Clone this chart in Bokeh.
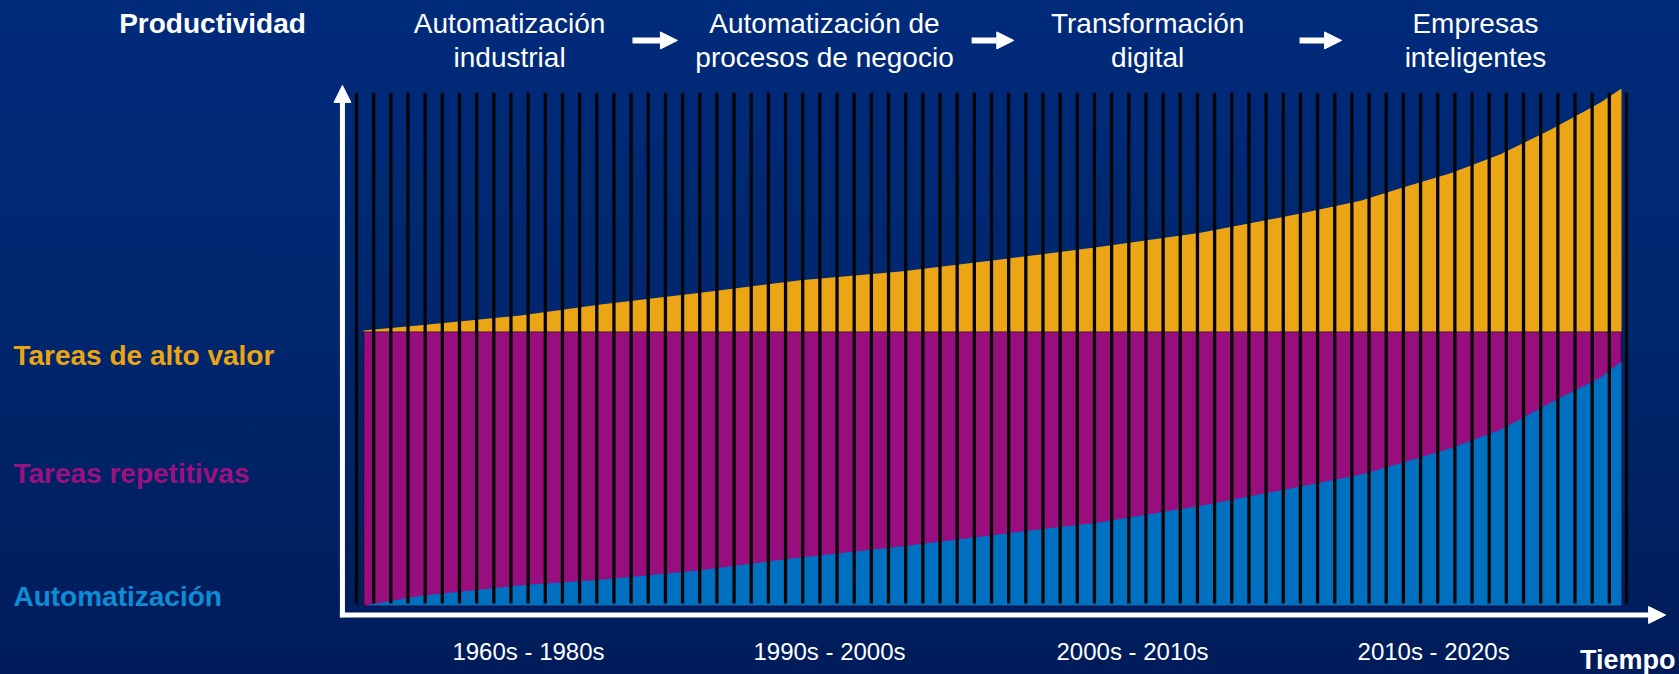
from bokeh.plotting import figure
from bokeh.models import Range1d, Arrow, NormalHead, ColumnDataSource, GlobalInlineStyleSheet
from bokeh.core.properties import value
from bokeh.embed import file_html
from bokeh.resources import INLINE

# ---------------- data ----------------
# sample positions along the time axis, in bar units (74 bars)
x_pts = [0.41, 3.73, 9.56, 14.22, 20.04, 25.87, 31.70, 37.53, 43.35, 49.18,
         55.01, 58.50, 60.83, 63.75, 66.66, 69.57, 72.49, 73.71]
# top of "Automatización" (blue) layer
automatizacion = [0.0, 1.9, 3.9, 5.0, 6.8, 9.3, 11.4, 13.8, 16.1, 19.3,
                  23.0, 25.3, 27.5, 30.4, 34.0, 39.2, 44.1, 47.2]
# constant top of the "Tareas repetitivas" (magenta) layer
tope_repetitivas = 53.0
# top of "Tareas de alto valor" (orange) layer = total productivity
productividad_total = [53.2, 54.2, 56.1, 58.2, 60.5, 62.9, 64.6, 66.9, 69.4, 72.1,
                       75.8, 78.3, 80.7, 83.6, 87.3, 92.0, 97.3, 100.0]
n_barras = 74

series = ["Tareas de alto valor", "Tareas repetitivas", "Automatización"]
etapas_l1 = ["Automatización", "Automatización de", "Transformación", "Empresas"]
etapas_l2 = ["industrial", "procesos de negocio", "digital", "inteligentes"]
periodos = ["1960s - 1980s", "1990s - 2000s", "2000s - 2010s", "2010s - 2020s"]

# ---------------- styles ----------------
ORANGE = "#EBA515"
MAGENTA = "#990E7D"
BLUE = "#0070C0"
LBL_COLORS = ["#EBA512", "#9A1280", "#0D8DD6"]
BG = "linear-gradient(to bottom, #002B7B 0%, #00276F 45%, #001C5A 100%)"

W, H = 1679, 674
p = figure(width=W, height=H,
           x_range=Range1d(-20.744, 77.089), y_range=Range1d(-13.35, 117.02),
           x_axis_type=None, y_axis_type=None,
           toolbar_location=None, output_backend="svg", min_border=0)
p.outline_line_color = None
p.background_fill_alpha = 0
p.border_fill_alpha = 0
p.styles = {"background": BG}
p.stylesheets.append(GlobalInlineStyleSheet(
    css="html{background:" + BG + ";min-height:100%;} body{background:transparent;}"))

src = ColumnDataSource(dict(
    x=x_pts,
    base=[0.0] * len(x_pts),
    auto=automatizacion,
    rep=[tope_repetitivas] * len(x_pts),
    total=productividad_total,
))

# magenta block (repetitive tasks) with thin dark outline
p.quad(left=[x_pts[0]], right=[x_pts[-1]], bottom=[0.0], top=[tope_repetitivas],
       fill_color=MAGENTA, line_color="#2d0a3c", line_width=1.5)
# automation layer
p.varea(x="x", y1="base", y2="auto", source=src, fill_color=BLUE)
# high value layer
p.varea(x="x", y1="rep", y2="total", source=src, fill_color=ORANGE)

# black bar separators
sep = list(range(n_barras + 1))
p.segment(x0=sep, x1=sep, y0=[0.4] * len(sep), y1=[99.2] * len(sep),
          line_color="#050505", line_width=3.3)

# axes as white arrows
x_axis_pos = -0.82
y_axis_pos = -1.84
p.add_layout(Arrow(end=NormalHead(size=17, fill_color="white", line_color="white"),
                   x_start=x_axis_pos, y_start=y_axis_pos - 0.45,
                   x_end=x_axis_pos, y_end=100.6,
                   line_color="white", line_width=5))
p.add_layout(Arrow(end=NormalHead(size=17, fill_color="white", line_color="white"),
                   x_start=x_axis_pos - 0.15, y_start=y_axis_pos,
                   x_end=76.28, y_end=y_axis_pos,
                   line_color="white", line_width=5))

# stage arrows between headings
for xs, xe in [(16.08, 18.3), (35.84, 37.9), (54.95, 57.0)]:
    p.add_layout(Arrow(end=NormalHead(size=17, fill_color="white", line_color="white"),
                       x_start=xs, y_start=109.3, x_end=xe + 0.4, y_end=109.3,
                       line_color="white", line_width=6))

SANS = value("Liberation Sans")

# axis titles
p.text(x=[-8.39], y=[112.6], text=["Productividad"], text_align="center",
       text_baseline="middle", text_font=SANS, text_font_style="bold",
       text_font_size="28px", text_color="white")
p.text(x=[76.85], y=[-10.6], text=["Tiempo"], text_align="right",
       text_baseline="middle", text_font=SANS, text_font_style="bold",
       text_font_size="27px", text_color="white")

# stage headings
stage_x = [8.92, 27.27, 46.1, 65.2]
p.text(x=stage_x, y=[112.6] * 4, text=etapas_l1, text_align="center",
       text_baseline="middle", text_font=SANS, text_font_size="28px",
       text_color="white")
p.text(x=stage_x, y=[106.0] * 4, text=etapas_l2, text_align="center",
       text_baseline="middle", text_font=SANS, text_font_size="28px",
       text_color="white")

# period labels
p.text(x=[10.02, 27.56, 45.22, 62.76], y=[-8.9] * 4, text=periodos,
       text_align="center", text_baseline="middle", text_font=SANS,
       text_font_size="24px", text_color="white")

# series labels on the left
p.text(x=[-19.99] * 3, y=[48.4, 25.5, 1.7], text=series, text_align="left",
       text_baseline="middle", text_font=SANS, text_font_style="bold",
       text_font_size="28px", text_color=LBL_COLORS)

open("out.html", "w").write(file_html(p, INLINE, title="Productividad"))
